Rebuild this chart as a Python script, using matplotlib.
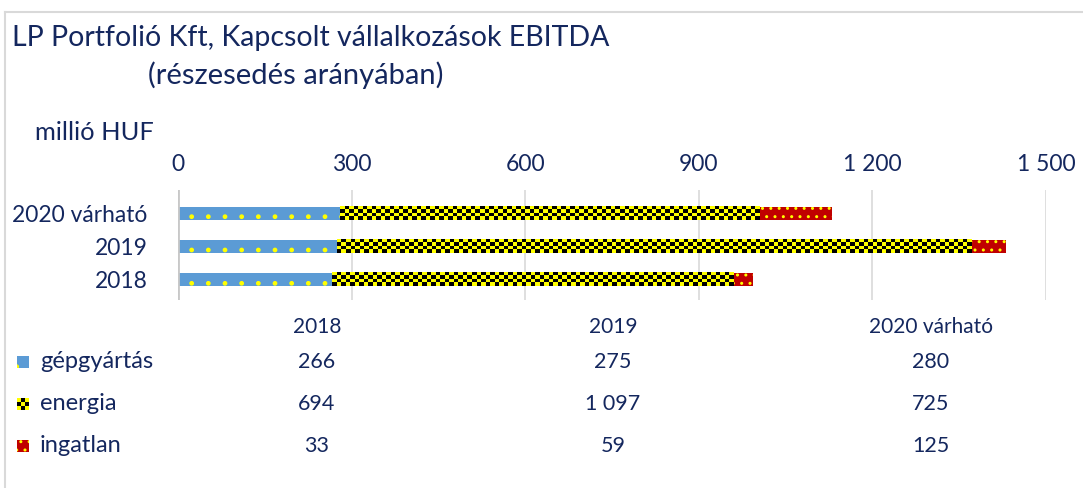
import matplotlib
matplotlib.use("Agg")
import matplotlib.pyplot as plt
import numpy as np
from matplotlib.patches import Rectangle
from matplotlib.lines import Line2D

plt.rcParams['font.family'] = ['Lato', 'DejaVu Sans']

years = ['2018', '2019', '2020 várható']
series = ['gépgyártás', 'energia', 'ingatlan']
gepgyartas = [266, 275, 280]
energia = [694, 1097, 725]
ingatlan = [33, 59, 125]
xticks = [0, 300, 600, 900, 1200, 1500]
xtick_labels = ['0', '300', '600', '900', '1 200', '1 500']
table_values = [['266', '275', '280'], ['694', '1 097', '725'], ['33', '59', '125']]

navy = '#14275e'
blue = '#5b9bd5'
red = '#c00000'
W, H = 1083, 488


def checker(nrows, ncols):
    # yellow / black checkerboard as an RGB array
    idx = (np.arange(nrows)[:, None] + np.arange(ncols)[None, :]) % 2
    img = np.zeros((nrows, ncols, 3))
    img[idx == 0] = [1, 1, 0]
    return img


fig = plt.figure(figsize=(W / 100, H / 100), dpi=100)
ax = fig.add_axes([178 / W, 1 - 300 / H, (1046 - 178) / W, 110 / H])

y = np.arange(len(years))
h = 0.39
ax.barh(y, gepgyartas, height=h, color=blue, edgecolor='#ffff00', linewidth=0, hatch='.')
left2 = np.array(gepgyartas)
ax.barh(y, energia, left=left2, height=h, color='#ffff00', linewidth=0)
left3 = left2 + np.array(energia)
ax.barh(y, ingatlan, left=left3, height=h, color=red, edgecolor='#ffff00', linewidth=0, hatch='..')

# checker pattern over the energia bars
px_per_unit = (1046 - 178) / 1500
for yi, l, w in zip(y, left2, energia):
    ncols = max(1, int(round(w * px_per_unit / 4.5)))
    ax.imshow(checker(4, ncols), extent=(l, l + w, yi - h / 2, yi + h / 2),
              aspect='auto', interpolation='nearest', zorder=2)

ax.set_xlim(0, 1500)
ax.set_ylim(-0.6, 2.69)
ax.set_yticks(y)
ax.set_yticklabels(years, fontsize=16.4, color=navy)
ax.xaxis.tick_top()
ax.set_xticks(xticks)
ax.set_xticklabels(xtick_labels, fontsize=16.5, color=navy)
ax.tick_params(axis='both', length=0)
ax.tick_params(axis='x', pad=11)
ax.tick_params(axis='y', pad=22)
for s in ax.spines.values():
    s.set_visible(False)
ax.grid(axis='x', color='#d9d9d9', linewidth=1.2)
ax.axvline(0, color='#c8c8c8', linewidth=2, zorder=1)
ax.set_axisbelow(True)

# chart frame
fig.add_artist(Line2D([5 / W, 5 / W], [0, 1 - 12 / H], color='#d9d9d9', linewidth=1.5))
fig.add_artist(Line2D([5 / W, 1], [1 - 12 / H, 1 - 12 / H], color='#d9d9d9', linewidth=1.5))

# titles
fig.text(12 / W, 1 - 38 / H, 'LP Portfolió Kft, Kapcsolt vállalkozások EBITDA',
         fontsize=20.5, color=navy, va='center', ha='left')
fig.text(148 / W, 1 - 75 / H, '(részesedés arányában)',
         fontsize=21, color=navy, va='center', ha='left')
fig.text(35 / W, 1 - 133 / H, 'millió HUF', fontsize=18.3, color=navy, va='center', ha='left')

# data table
col_x = [317, 613, 931]
row_y = [362, 404, 446]
for cx, yr in zip(col_x, years):
    fig.text(cx / W, 1 - 327 / H, yr, fontsize=15, color=navy, ha='center', va='center')
for ry, vals in zip(row_y, table_values):
    for cx, v in zip(col_x, vals):
        fig.text(cx / W, 1 - ry / H, v, fontsize=15.5, color=navy, ha='center', va='center')

key = 12
for ry, name in zip(row_y, series):
    fig.text(40 / W, 1 - ry / H, name, fontsize=17, color=navy, ha='left', va='center')
kx = 17 / W
fig.add_artist(Rectangle((kx, 1 - (row_y[0] + 6) / H), key / W, key / H, transform=fig.transFigure,
                         facecolor=blue, edgecolor='#ffff00', linewidth=0, hatch='.'))
fig.add_artist(Rectangle((kx, 1 - (row_y[2] + 6) / H), key / W, key / H, transform=fig.transFigure,
                         facecolor=red, edgecolor='#ffff00', linewidth=0, hatch='..'))
kax = fig.add_axes([kx, 1 - (row_y[1] + 6) / H, key / W, key / H])
kax.imshow(checker(3, 3), aspect='auto', interpolation='nearest')
kax.axis('off')

fig.savefig('out.png', dpi=100)
